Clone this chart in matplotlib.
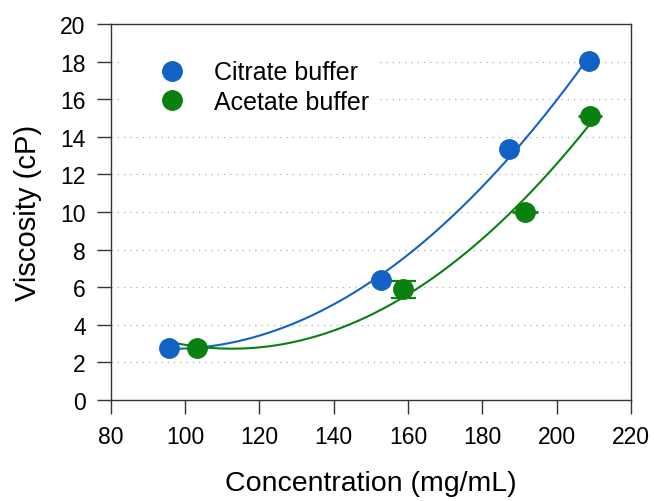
import matplotlib.pyplot as plt
import numpy as np
from matplotlib.lines import Line2D

plt.rcParams['font.family'] = ['Liberation Sans', 'DejaVu Sans']

# viscosity vs protein concentration for two formulation buffers
citrate_conc = [95.8, 152.7, 187.2, 208.7]
citrate_visc = [2.77, 6.37, 13.35, 18.03]

acetate_conc = [103.2, 158.7, 191.5, 209.0]
acetate_visc = [2.77, 5.88, 9.98, 15.1]
acetate_xerr = [0.0, 0.0, 3.4, 3.2]
acetate_yerr = [0.0, 0.45, 0.0, 0.0]

blue = '#1262c6'
green = '#0b800f'

fig = plt.figure(figsize=(6.54, 5.02), dpi=100)
ax = fig.add_axes([0.1693, 0.2012, 0.7955, 0.7490])

# dotted grid
for yv in range(2, 20, 2):
	ax.axhline(yv, color='#b0b0b0', linestyle=(0, (1, 4)), linewidth=0.9, zorder=0)

# quadratic fits
xfit = np.linspace(citrate_conc[0], citrate_conc[-1], 200)
c_fit = np.polyfit(citrate_conc, citrate_visc, 2)
ax.plot(xfit, np.polyval(c_fit, xfit), color=blue, linewidth=1.5, zorder=2)
xfit2 = np.linspace(97, acetate_conc[-1], 200)
a_fit = np.polyfit(acetate_conc, acetate_visc, 2)
ax.plot(xfit2, np.polyval(a_fit, xfit2), color=green, linewidth=1.5, zorder=2)

# error bars only where there is spread
xe = np.array(acetate_xerr)
ye = np.array(acetate_yerr)
ac = np.array(acetate_conc)
av = np.array(acetate_visc)
ax.errorbar(ac[xe > 0], av[xe > 0], xerr=xe[xe > 0], fmt='none',
	ecolor=green, elinewidth=2, capsize=0, zorder=2.5)
ax.errorbar(ac[ye > 0], av[ye > 0], yerr=ye[ye > 0], fmt='none',
	ecolor=green, elinewidth=1.6, capsize=9, capthick=1.6, zorder=2.5)

ax.plot(citrate_conc, citrate_visc, 'o', color=blue, markersize=14, zorder=3)
ax.plot(acetate_conc, acetate_visc, 'o', color=green, markersize=14, zorder=3)

ax.set_xlim(80, 220)
ax.set_ylim(0, 20)
ax.set_xticks(range(80, 221, 20))
ax.set_yticks(range(0, 21, 2))
ax.tick_params(direction='out', length=10, width=1, labelsize=16.5,
	color='#333333', labelcolor='black')
ax.tick_params(axis='x', pad=8)
ax.tick_params(axis='y', pad=8)
for s in ax.spines.values():
	s.set_color('#333333')
	s.set_linewidth(1)

ax.set_xlabel('Concentration (mg/mL)', fontsize=20.5, labelpad=16)
ax.set_ylabel('Viscosity (cP)', fontsize=21, labelpad=13)

handles = [
	Line2D([], [], marker='o', linestyle='none', color=blue, markersize=14),
	Line2D([], [], marker='o', linestyle='none', color=green, markersize=14),
]
leg = ax.legend(handles, ['Citrate buffer', 'Acetate buffer'],
	loc='upper left', bbox_to_anchor=(0.017, 0.93), borderaxespad=0,
	frameon=True, fontsize=18, handletextpad=0.0, borderpad=0.4,
	labelspacing=0.22, handlelength=3.36)
leg.get_frame().set_edgecolor('none')
leg.get_frame().set_facecolor('white')
leg.get_frame().set_alpha(1)

fig.savefig('out.png', dpi=100)
